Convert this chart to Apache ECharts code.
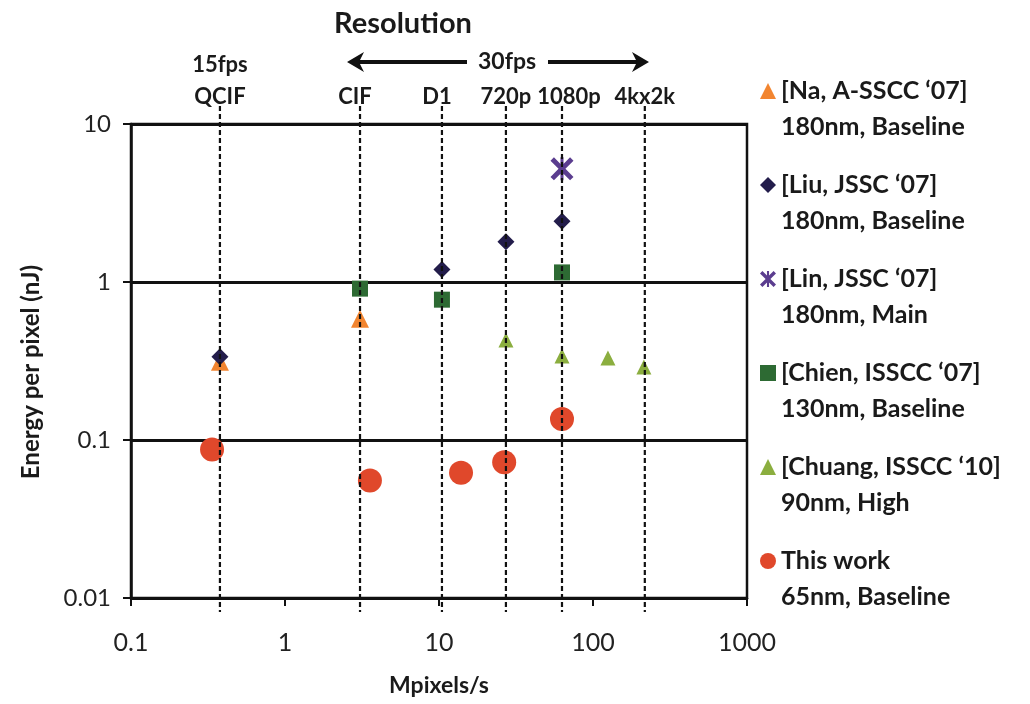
<!DOCTYPE html>
<html>
<head>
<meta charset="utf-8">
<script src="https://cdn.jsdelivr.net/npm/echarts@6/dist/echarts.min.js"></script>
<style>
  html, body { margin: 0; padding: 0; background: #fff; }
  #main { width: 1030px; height: 704px; }
</style>
</head>
<body>
<div id="main"></div>
<script>
// tick labels
var xTickLabels = ['0.1', '1', '10', '100', '1000'];
var yTickLabels = ['0.01', '0.1', '1', '10'];

// resolution reference lines (Mpixels/s)
var resNames = ['QCIF', 'CIF', 'D1', '720p', '1080p', '4kx2k'];
var resFps = ['15fps', '', '', '', '', ''];
var resValues = [0.378, 3.07, 10.45, 27.2, 62.9, 217];

// series names and the second legend line
var seriesNames = ['[Na, A-SSCC \u201807]', '[Liu, JSSC \u201807]', '[Lin, JSSC \u201807]',
                   '[Chien, ISSCC \u201807]', '[Chuang, ISSCC \u201810]', 'This work'];
var seriesSub = ['180nm, Baseline', '180nm, Baseline', '180nm, Main',
                 '130nm, Baseline', '90nm, High', '65nm, Baseline'];

// data: [Mpixels/s, energy per pixel nJ]
var naData = [[0.378, 0.313], [3.07, 0.586]];
var liuData = [[0.378, 0.336], [10.45, 1.20], [27.2, 1.80], [62.9, 2.42]];
var linData = [[62.9, 5.2]];
var chienData = [[3.07, 0.908], [10.45, 0.773], [62.9, 1.15]];
var chuangData = [[27.2, 0.43], [62.9, 0.34], [125, 0.33], [214, 0.29]];
var thisWorkData = [[0.336, 0.087], [3.56, 0.0555], [13.9, 0.0621], [26.5, 0.0723], [62.9, 0.136]];

var FONT = 'Lato, "Open Sans", sans-serif';
var xMark = 'path://M0,3 L3,0 L10,7 L17,0 L20,3 L13,10 L20,17 L17,20 L10,13 L3,20 L0,17 L7,10 Z M8.7,0 L11.3,0 L11.3,20 L8.7,20 Z';

// small nudges so the top labels do not collide
var labelNudge = { 'CIF': -5, 'D1': -5, '1080p': 7 };

var myChart = echarts.init(document.getElementById('main'));

var subByName = {};
seriesNames.forEach(function (n, i) { subByName[n] = seriesSub[i]; });

function scatter(idx, data, symbol, size, color) {
    return {
        name: seriesNames[idx],
        type: 'scatter',
        data: data,
        symbol: symbol,
        symbolSize: size,
        z: 2,
        itemStyle: { color: color, opacity: 1 }
    };
}

var option = {
    backgroundColor: '#fff',
    animation: false,
    textStyle: { fontFamily: FONT },
    grid: {
        left: 131, right: 283, top: 124, bottom: 106,
        show: true, borderColor: '#111', borderWidth: 2.5
    },
    legend: {
        orient: 'vertical',
        left: 760,
        top: 37,
        padding: 0,
        itemGap: -14,
        itemWidth: 16,
        itemHeight: 16,
        data: seriesNames,
        formatter: function (name) { return '\n' + name + '\n' + subByName[name]; },
        textStyle: { fontFamily: FONT, fontWeight: 'bold', fontSize: 25, color: '#1a1a1a', lineHeight: 36 }
    },
    xAxis: {
        type: 'log',
        logBase: 10,
        min: 0.1,
        max: 1000,
        name: 'Mpixels/s',
        nameLocation: 'middle',
        nameGap: 76,
        nameTextStyle: { fontFamily: FONT, fontWeight: 'bold', fontSize: 23, color: '#1a1a1a' },
        axisLine: { show: true, lineStyle: { color: '#111', width: 2.5 } },
        axisTick: { show: true, length: 8, lineStyle: { color: '#111', width: 2 } },
        axisLabel: {
            margin: 32, fontSize: 25, color: '#222', fontFamily: FONT,
            formatter: function (v, i) { return xTickLabels[i]; }
        },
        splitLine: { show: false }
    },
    yAxis: {
        type: 'log',
        logBase: 10,
        min: 0.01,
        max: 10,
        name: 'Energy per pixel (nJ)',
        nameLocation: 'middle',
        nameGap: 88,
        nameTextStyle: { fontFamily: FONT, fontWeight: 'bold', fontSize: 24, color: '#1a1a1a', padding: [0, 22, 0, 0] },
        axisLine: { show: true, lineStyle: { color: '#111', width: 2.5 } },
        axisTick: { show: true, length: 8, lineStyle: { color: '#111', width: 2 } },
        axisLabel: {
            margin: 20, fontSize: 24, color: '#222', fontFamily: FONT,
            formatter: function (v, i) { return yTickLabels[i]; }
        },
        splitLine: { show: true, lineStyle: { color: '#111', width: 2.8 } }
    },
    graphic: [
        { type: 'text', x: 403, y: 24,
          style: { text: 'Resolution', font: 'bold 29px ' + FONT, fill: '#1a1a1a', align: 'center', verticalAlign: 'middle' } },
        { type: 'text', x: 507, y: 62,
          style: { text: '30fps', font: 'bold 23px ' + FONT, fill: '#1a1a1a', align: 'center', verticalAlign: 'middle' } },
        { type: 'line', shape: { x1: 358, y1: 62, x2: 467, y2: 62 }, style: { stroke: '#111', lineWidth: 4 } },
        { type: 'polygon', shape: { points: [[347, 62], [364, 52], [359, 62], [364, 72]] }, style: { fill: '#111' } },
        { type: 'line', shape: { x1: 548, y1: 62, x2: 638, y2: 62 }, style: { stroke: '#111', lineWidth: 4 } },
        { type: 'polygon', shape: { points: [[649, 62], [632, 52], [637, 62], [632, 72]] }, style: { fill: '#111' } }
    ],
    series: [
        scatter(0, naData, 'triangle', 18, '#F28530'),
        scatter(1, liuData, 'diamond', 17, '#231D4B'),
        scatter(2, linData, xMark, 23, '#5B3D8F'),
        scatter(3, chienData, 'rect', 16, '#2D6A33'),
        scatter(4, chuangData, 'triangle', 15, '#8BAE3F'),
        scatter(5, thisWorkData, 'circle', 24, '#E0482B'),
        {
            type: 'custom',
            name: 'resolution',
            z: 3,
            clip: false,
            silent: true,
            data: resValues.map(function (v) { return [v]; }),
            renderItem: function (params, api) {
                var cs = params.coordSys;
                var i = params.dataIndex;
                var x = api.coord([api.value(0), 1])[0];
                var lx = x + (labelNudge[resNames[i]] || 0);
                var children = [
                    { type: 'line',
                      shape: { x1: x, y1: cs.y - 18, x2: x, y2: cs.y + cs.height + 14 },
                      style: { stroke: '#111', lineWidth: 2.2, lineDash: [5, 3] } },
                    { type: 'text', x: lx, y: cs.y - 27,
                      style: { text: resNames[i], font: 'bold 22px ' + FONT, fill: '#1a1a1a',
                               align: 'center', verticalAlign: 'middle' } }
                ];
                if (resFps[i]) {
                    children.push({ type: 'text', x: lx, y: cs.y - 59,
                      style: { text: resFps[i], font: 'bold 22px ' + FONT, fill: '#1a1a1a',
                               align: 'center', verticalAlign: 'middle' } });
                }
                return { type: 'group', children: children };
            }
        }
    ]
};

myChart.setOption(option);
</script>
</body>
</html>
